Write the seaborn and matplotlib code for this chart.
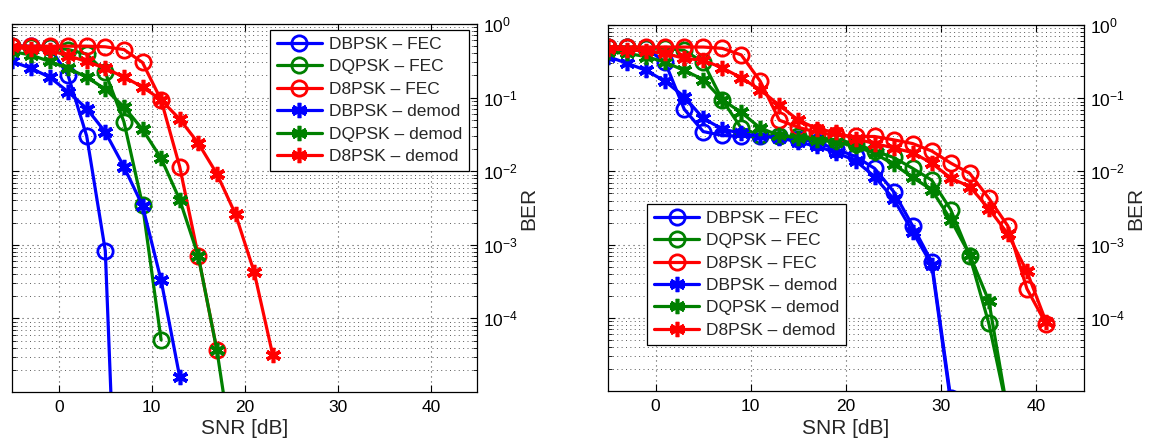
import numpy as np
import pandas as pd
import matplotlib
matplotlib.use("Agg")
import matplotlib.pyplot as plt
import matplotlib.ticker as mticker
import seaborn as sns

# ---------------- data ----------------
snr = [-5, -3, -1, 1, 3, 5, 7, 9, 11, 13, 15, 17, 19, 21, 23, 25, 27, 29, 31, 33, 35, 37, 39, 41]

labels = ["DBPSK – FEC", "DQPSK – FEC", "D8PSK – FEC",
          "DBPSK – demod", "DQPSK – demod", "D8PSK – demod"]

# left panel
blue_fec_L = [0.50, 0.50, 0.49, 0.20, 0.030, 8.3e-4, 3e-10]
green_fec_L = [0.50, 0.49, 0.48, 0.45, 0.39, 0.22, 0.047, 0.0035, 5.1e-5]
red_fec_L = [0.50, 0.50, 0.50, 0.50, 0.50, 0.49, 0.45, 0.30, 0.093, 0.0115, 7.0e-4, 3.7e-5]
blue_demod_L = [0.31, 0.25, 0.19, 0.12, 0.071, 0.034, 0.0115, 0.0034, 3.3e-4, 1.6e-5]
green_demod_L = [0.42, 0.38, 0.31, 0.25, 0.19, 0.13, 0.075, 0.037, 0.015, 0.0041, 7.0e-4, 3.7e-5, 7.8e-7]
red_demod_L = [0.48, 0.46, 0.44, 0.37, 0.31, 0.25, 0.19, 0.14, 0.093, 0.051, 0.024, 0.0092, 0.0026, 4.3e-4, 3.2e-5]

# right panel
blue_fec_R = [0.50, 0.50, 0.48, 0.31, 0.071, 0.035, 0.031, 0.030, 0.030, 0.030, 0.028, 0.025,
              0.020, 0.016, 0.011, 0.0053, 0.0018, 5.8e-4, 8e-6]
green_fec_R = [0.50, 0.50, 0.49, 0.48, 0.45, 0.31, 0.095, 0.039, 0.031, 0.030, 0.030, 0.029,
               0.027, 0.024, 0.019, 0.0155, 0.011, 0.0076, 0.0030, 7.0e-4, 8.4e-5, 5e-6]
red_fec_R = [0.50, 0.50, 0.50, 0.50, 0.50, 0.50, 0.48, 0.39, 0.17, 0.050, 0.040, 0.034,
             0.031, 0.030, 0.030, 0.027, 0.024, 0.019, 0.013, 0.0094, 0.0043, 0.0018, 2.5e-4, 8.3e-5]
blue_demod_R = [0.37, 0.30, 0.24, 0.17, 0.105, 0.053, 0.038, 0.033, 0.030, 0.029, 0.025, 0.022,
                0.018, 0.014, 0.0085, 0.0042, 0.0015, 5.3e-4, 7e-6]
green_demod_R = [0.43, 0.41, 0.37, 0.31, 0.24, 0.18, 0.095, 0.064, 0.039, 0.031, 0.029, 0.027,
                 0.025, 0.022, 0.0176, 0.0125, 0.0083, 0.0056, 0.0022, 7.2e-4, 1.7e-4, 5e-6]
red_demod_R = [0.47, 0.46, 0.44, 0.41, 0.35, 0.33, 0.26, 0.19, 0.13, 0.080, 0.050, 0.038,
               0.034, 0.028, 0.024, 0.021, 0.018, 0.013, 0.0081, 0.0062, 0.0031, 0.0014, 4.3e-4, 8.9e-5]

x_ticks = [0, 10, 20, 30, 40]
y_ticks = [1e-4, 1e-3, 1e-2, 1e-1, 1e0]

# ---------------- style ----------------
sns.set_theme(style="white")
plt.rcParams["font.family"] = ["Liberation Sans", "DejaVu Sans"]
plt.rcParams["mathtext.fontset"] = "custom"
plt.rcParams["mathtext.rm"] = "Liberation Sans"
plt.rcParams["mathtext.it"] = "Liberation Sans"

colors = ["#0000ff", "#008000", "#ff0000"]
ast = (6, 2, 0)

fig = plt.figure(figsize=(11.51, 4.41), dpi=100)
axL = fig.add_axes([12.3 / 1151, (441 - 392) / 441, 465 / 1151, 368 / 441])
axR = fig.add_axes([608 / 1151, (441 - 391) / 441, 476 / 1151, 366 / 441])


def draw(ax, fec, dem, legend_kw):
    for vals, c, lab in zip(fec, colors, labels[:3]):
        df = pd.DataFrame({"snr": snr[:len(vals)], "ber": vals})
        sns.lineplot(data=df, x="snr", y="ber", ax=ax, color=c, linewidth=2.3,
                     marker="o", markersize=11, markerfacecolor="none",
                     markeredgecolor=c, markeredgewidth=2.0, label=lab)
    for vals, c, lab in zip(dem, colors, labels[3:]):
        df = pd.DataFrame({"snr": snr[:len(vals)], "ber": vals})
        sns.lineplot(data=df, x="snr", y="ber", ax=ax, color=c, linewidth=2.3,
                     marker=ast, markersize=11, markerfacecolor=c,
                     markeredgecolor=c, markeredgewidth=2.6, label=lab)
    ax.set_yscale("log")
    ax.set_xlim(-5, 45)
    ax.set_ylim(1e-5, 1)
    ax.set_xticks(x_ticks)
    ax.set_yticks(y_ticks)
    ax.yaxis.set_minor_locator(mticker.LogLocator(base=10, subs=np.arange(2, 10), numticks=20))
    ax.yaxis.set_minor_formatter(mticker.NullFormatter())
    ax.set_axisbelow(True)
    ax.grid(True, which="major", axis="both", color="0.3", linestyle=(0, (1, 3.5)), linewidth=0.8)
    ax.grid(True, which="minor", axis="y", color="0.35", linestyle=(0, (1, 3.5)), linewidth=0.7)
    ax.yaxis.tick_right()
    ax.yaxis.set_label_position("right")
    ax.tick_params(which="both", direction="in", left=True, right=True, top=True, bottom=True,
                   labelleft=False, labelright=True, colors="black", labelsize=12.5)
    ax.tick_params(which="major", length=5, width=0.8)
    ax.tick_params(which="minor", length=3, width=0.6)
    ax.tick_params(axis="x", pad=6)
    ax.tick_params(axis="y", pad=4)
    ax.set_xlabel("SNR [dB]", fontsize=15, labelpad=3)
    ax.set_ylabel("BER", fontsize=15, labelpad=1, rotation=90)
    for s in ax.spines.values():
        s.set_color("black")
        s.set_linewidth(0.9)
    leg = ax.legend(fontsize=12.5, frameon=True, fancybox=False, framealpha=1,
                    edgecolor="black", handlelength=2.6, handletextpad=0.4,
                    labelspacing=0.42, borderpad=0.4, borderaxespad=0, numpoints=1,
                    **legend_kw)
    leg.get_frame().set_linewidth(0.9)


draw(axL, [blue_fec_L, green_fec_L, red_fec_L], [blue_demod_L, green_demod_L, red_demod_L],
     dict(loc="upper right", bbox_to_anchor=(0.982, 0.984)))
draw(axR, [blue_fec_R, green_fec_R, red_fec_R], [blue_demod_R, green_demod_R, red_demod_R],
     dict(loc="lower left", bbox_to_anchor=(0.082, 0.126)))

fig.savefig("out.png", dpi=100)
